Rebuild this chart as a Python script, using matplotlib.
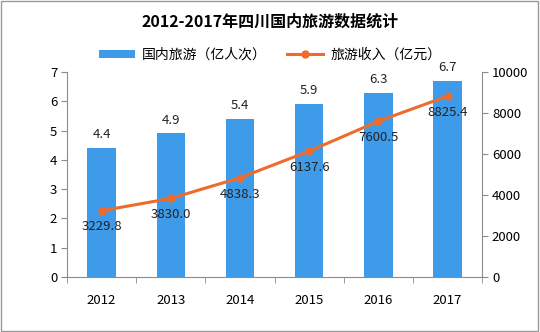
import matplotlib.pyplot as plt
from matplotlib.patches import Rectangle

plt.rcParams['font.family'] = ['Noto Sans CJK SC', 'DejaVu Sans']

years = ['2012', '2013', '2014', '2015', '2016', '2017']
visitors = [4.4, 4.9, 5.4, 5.9, 6.3, 6.7]
income = [3229.8, 3830.0, 4838.3, 6137.6, 7600.5, 8825.4]

bar_color = '#3d9be9'
line_color = '#ed6b2d'
axis_color = '#8c8c8c'

fig = plt.figure(figsize=(5.4, 3.32), dpi=100)
fig.patches.append(Rectangle((0.002, 0.003), 0.995, 0.994, transform=fig.transFigure,
                             fill=False, edgecolor='#999999', linewidth=1))
ax = fig.add_axes([0.124, 0.166, 0.769, 0.617])
ax2 = ax.twinx()

x = range(len(years))
ax.bar(x, visitors, width=0.41, color=bar_color, zorder=2, label='国内旅游（亿人次）')
for i, v in enumerate(visitors):
    ax.annotate(f'{v:.1f}', (i, v), xytext=(0, 5), textcoords='offset points',
                ha='center', va='bottom', fontsize=9.5, color='#222222')

ax2.plot(x, income, color=line_color, linewidth=2.2, marker='o', markersize=5,
         zorder=3, label='旅游收入（亿元）')
for i, v in enumerate(income):
    ax2.annotate(f'{v:.1f}', (i, v), xytext=(0, -7), textcoords='offset points',
                 ha='center', va='top', fontsize=9.5, color='#222222')

ax.set_xlim(-0.5, len(years) - 0.5)
ax.set_ylim(0, 7)
ax2.set_ylim(0, 10000)
ax.set_yticks(range(0, 8))
ax2.set_yticks(range(0, 10001, 2000))
ax.set_xticks(list(x))
ax.set_xticklabels(years)
ax.set_xticks([i + 0.5 for i in range(-1, len(years))], minor=True)
ax.tick_params(axis='x', which='major', length=0, pad=12, labelsize=9.5)
ax.tick_params(axis='x', which='minor', length=4, color=axis_color)
ax.tick_params(axis='y', length=4, color=axis_color, labelsize=9.5, pad=3)
ax2.tick_params(axis='y', length=4, color=axis_color, labelsize=9.5, pad=3)

for a in (ax, ax2):
    a.spines['top'].set_visible(False)
    for s in ('left', 'right', 'bottom'):
        a.spines[s].set_color(axis_color)
ax.spines['right'].set_visible(False)
ax2.spines['left'].set_visible(False)
ax2.spines['bottom'].set_visible(False)

fig.text(0.5, 0.935, '2012-2017年四川国内旅游数据统计', ha='center', va='center',
         fontsize=11.5, fontweight='bold')

h1, l1 = ax.get_legend_handles_labels()
h2, l2 = ax2.get_legend_handles_labels()
fig.legend(h1 + h2, l1 + l2, loc='center', bbox_to_anchor=(0.5, 0.835), ncol=2,
           frameon=False, fontsize=10, handlelength=2.6, handleheight=0.5,
           columnspacing=1.5, handletextpad=0.5)

fig.savefig('out.png', dpi=100)
